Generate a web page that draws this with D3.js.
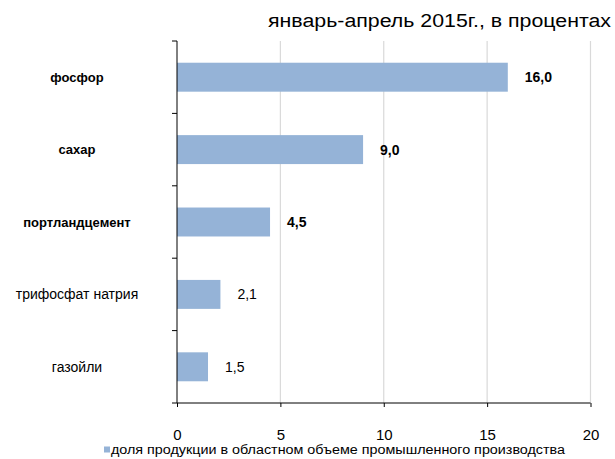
<!DOCTYPE html>
<html><head><meta charset="utf-8">
<script src="https://cdn.jsdelivr.net/npm/d3@7"></script>
<style>body{margin:0;background:#fff;} svg{display:block;font-family:"Liberation Sans",Arial,sans-serif;}</style>
</head><body>
<svg id="c" width="615" height="459"></svg>
<script>
const categories = ["фосфор","сахар","портландцемент","трифосфат натрия","газойли"];
const values = [16.0, 9.0, 4.5, 2.1, 1.5];
const valueLabels = ["16,0","9,0","4,5","2,1","1,5"];
const boldCats = [true, true, true, false, false];
const xTicks = [0,5,10,15,20];
const title = "январь-апрель 2015г., в процентах";
const legendLabel = "доля продукции в областном объеме промышленного производства";

const svg = d3.select("#c");
const x = d3.scaleLinear().domain([0,20]).range([177,590.5]);
const y = d3.scaleBand().domain(categories).range([41,403]).paddingInner(0.6).paddingOuter(0.3);
const yb = d3.scaleBand().domain(categories).range([41,403]);

// gridlines
svg.append("g").selectAll("line").data(xTicks.slice(1)).join("line")
  .attr("x1",d=>x(d)).attr("x2",d=>x(d)).attr("y1",41).attr("y2",403)
  .attr("stroke","#d9d9d9").attr("stroke-width",1.2);

// bars
svg.append("g").selectAll("rect").data(values).join("rect")
  .attr("x",x(0)).attr("y",(d,i)=>y(categories[i]))
  .attr("width",d=>x(d)-x(0)).attr("height",y.bandwidth())
  .attr("fill","#95b3d7");

// value labels
svg.append("g").selectAll("text").data(values).join("text")
  .attr("x",d=>x(d)+17).attr("y",(d,i)=>y(categories[i])+y.bandwidth()/2)
  .attr("dy","0.35em").attr("font-size",14)
  .attr("font-weight",(d,i)=>boldCats[i]?"bold":"normal")
  .attr("fill","#000").text((d,i)=>valueLabels[i]);

// category labels
svg.append("g").selectAll("text").data(categories).join("text")
  .attr("x",77).attr("y",d=>y(d)+y.bandwidth()/2).attr("dy","0.35em")
  .attr("text-anchor","middle").attr("font-size",(d,i)=>boldCats[i]?13:14)
  .attr("font-weight",(d,i)=>boldCats[i]?"bold":"normal")
  .attr("fill","#000").text(d=>d);

// y axis
const yAxis = svg.append("g");
yAxis.append("line").attr("x1",177).attr("x2",177).attr("y1",41).attr("y2",403).attr("stroke","#000");
const yTickPos = categories.map(c=>yb(c)).concat([403]);
yAxis.selectAll("line.t").data(yTickPos).join("line").attr("class","t")
  .attr("x1",172).attr("x2",177).attr("y1",d=>d).attr("y2",d=>d).attr("stroke","#000");

// x axis
const xAxis = svg.append("g").attr("transform","translate(0,403)")
  .call(d3.axisBottom(x).tickValues(xTicks).tickSize(4).tickPadding(22).tickFormat(d3.format("d")));
xAxis.select(".domain").attr("stroke","#000").attr("d","M177,0H590.5");
xAxis.selectAll(".tick line").attr("stroke","#000");
xAxis.selectAll(".tick text").attr("font-size",15).attr("fill","#000").attr("font-family","Liberation Sans, Arial, sans-serif");

// title
svg.append("text").attr("x",611).attr("y",27).attr("text-anchor","end")
  .attr("font-size",18).attr("fill","#000")
  .attr("textLength",343).attr("lengthAdjust","spacingAndGlyphs").text(title);

// legend
svg.append("rect").attr("x",104).attr("y",446.5).attr("width",6).attr("height",6).attr("fill","#95b3d7");
svg.append("text").attr("x",111).attr("y",453.5)
  .attr("font-size",12.5).attr("fill","#000")
  .attr("textLength",454).attr("lengthAdjust","spacingAndGlyphs").text(legendLabel);
</script>
</body></html>
